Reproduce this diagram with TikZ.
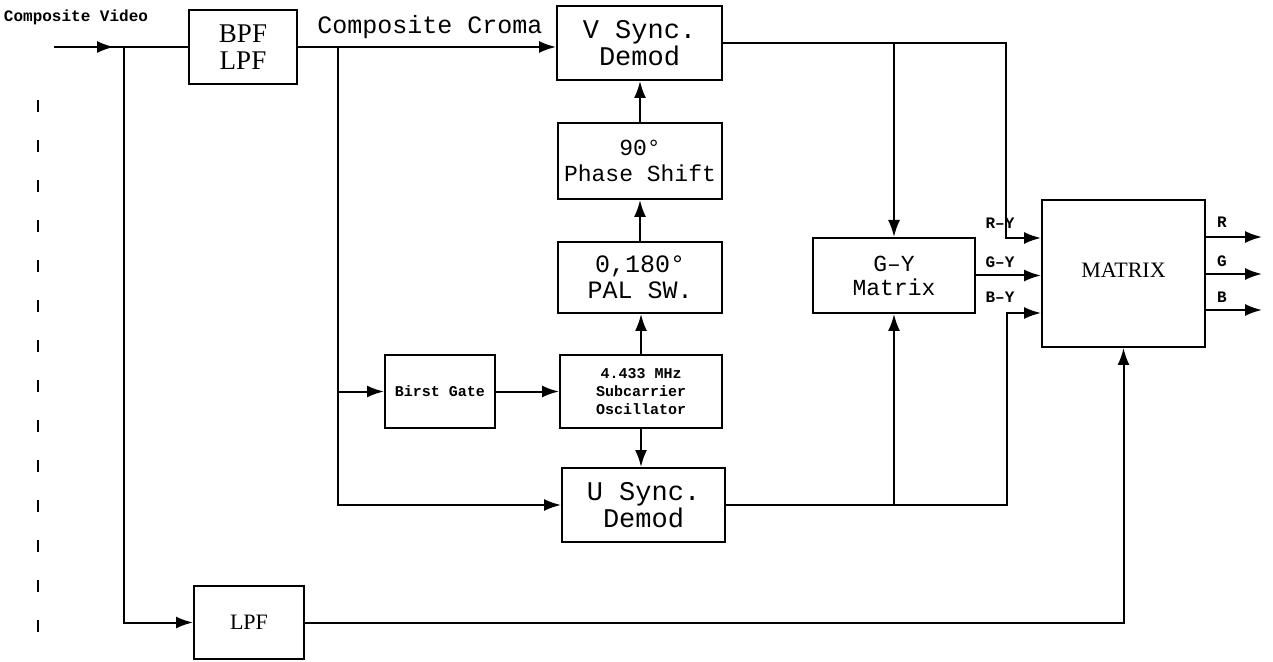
\documentclass[tikz,border=0pt]{standalone}
\usepackage{fontspec}
\newfontfamily\monofont{Liberation Mono}
\newfontfamily\seriffont{Liberation Serif}
\usetikzlibrary{arrows.meta}
\begin{document}
\begin{tikzpicture}[x=0.5pt,y=-0.5pt, line width=1pt,
  box/.style={draw, line width=1pt, inner sep=0pt, align=center, font=\monofont\fontsize{13.5}{13.5}\selectfont},
  arr/.style={-{Latex[length=8.5pt,width=6pt]}},
  lab/.style={font=\monofont\bfseries\fontsize{8}{9}\selectfont, inner sep=0pt},
  small/.style={font=\monofont\bfseries\fontsize{7.5}{9}\selectfont}]
\useasboundingbox (0,0) rectangle (1273,662);
% boxes
\node[box, minimum width=54pt, minimum height=37pt, font=\seriffont\fontsize{13.5}{13.5}\selectfont] (bpf) at (243,47) {BPF\\LPF};
\node[box, minimum width=82.5pt, minimum height=37pt] (vsync) at (639.5,43) {V Sync.\\Demod};
\node[box, minimum width=82pt, minimum height=38pt, font=\monofont\fontsize{11.5}{13}\selectfont] (phase) at (640,161) {90°\\Phase Shift};
\node[box, minimum width=82pt, minimum height=35.5pt, font=\monofont\fontsize{12.5}{13}\selectfont] (pal) at (640,277.5) {0,180°\\PAL SW.};
\node[box, minimum width=81pt, minimum height=36.5pt, small] (osc) at (641,391.5) {4.433 MHz\\Subcarrier\\Oscillator};
\node[box, minimum width=55pt, minimum height=36.5pt, small] (burst) at (440,391.5) {Birst Gate};
\node[box, minimum width=81.5pt, minimum height=37pt] (usync) at (643.5,505) {U Sync.\\Demod};
\node[box, minimum width=81pt, minimum height=37.5pt, font=\monofont\fontsize{11.5}{12}\selectfont] (gy) at (894,275.5) {G–Y\\Matrix};
\node[box, minimum width=81.5pt, minimum height=73.5pt, font=\seriffont\fontsize{11}{12}\selectfont] (matrix) at (1123.5,273.5) {\raisebox{3pt}{MATRIX}};
\node[box, minimum width=55pt, minimum height=36.5pt, font=\seriffont\fontsize{11}{12}\selectfont] (lpf) at (249,622.5) {LPF};
% labels
\node[lab] (cv) at (76,17) {Composite Video};
\node[font=\monofont\fontsize{12.5}{13}\selectfont, inner sep=0pt] (cc) at (430,27) {Composite Croma};
\node[lab] (lry) at (1000,223) {R–Y};
\node[lab] (lgy) at (1000,262) {G–Y};
\node[lab] (lby) at (1000,297) {B–Y};
\node[lab] (lr) at (1222,222) {R};
\node[lab] (lg) at (1222,261) {G};
\node[lab] (lb) at (1222,297) {B};
% coordinates
\coordinate (in) at (54,47);
\coordinate (inarr) at (114,47);
\coordinate (j1) at (124,47);
\coordinate (j2) at (338,47);
\coordinate (ry) at (1006,238);
\coordinate (by) at (1007,313);
\coordinate (ro) at (1262,237);
\coordinate (go) at (1262,274);
\coordinate (bo) at (1262,310);
% connectors
\draw (in) -- (bpf.west);
\draw[arr] (in) -- (inarr);
\draw[arr] (j1) |- (lpf.west);
\draw[arr] (bpf.east) -- (bpf.east -| vsync.west);
\draw[arr] (j2) |- (usync.west);
\draw[arr] (j2 |- burst.west) -- (burst.west);
\draw[arr] (burst.east) -- (osc.west);
\draw[arr] (osc.north) -- (osc.north |- pal.south);
\draw[arr] (osc.south) -- (osc.south |- usync.north);
\draw[arr] (pal.north) -- (phase.south);
\draw[arr] (phase.north) -- (phase.north |- vsync.south);
\draw[arr] (vsync.east) -| (ry) -- (ry -| matrix.west);
\draw[arr] (vsync.east -| gy.north) -- (gy.north);
\draw[arr] (gy.east) -- (gy.east -| matrix.west);
\draw[arr] (usync.east) -| (by) -- (by -| matrix.west);
\draw[arr] (usync.east -| gy.south) -- (gy.south);
\draw[arr] (lpf.east) -| (matrix.south);
\draw[arr] (ro -| matrix.east) -- (ro);
\draw[arr] (go -| matrix.east) -- (go);
\draw[arr] (bo -| matrix.east) -- (bo);
% broken edge line
\draw[line width=0.8pt, dash pattern=on 6pt off 14pt] (38,100) -- (38,640);
\end{tikzpicture}
\end{document}
